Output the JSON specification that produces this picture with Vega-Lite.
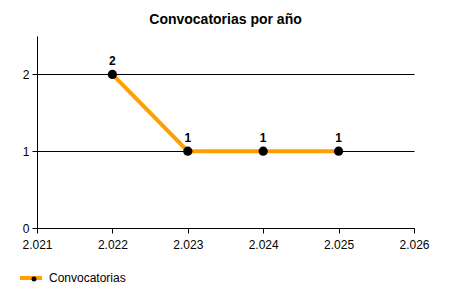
{
  "$schema": "https://vega.github.io/schema/vega-lite/v6.json",
  "width": 377,
  "height": 192,
  "autosize": "none",
  "padding": {"left": 37, "top": 36, "right": 36, "bottom": 72},
  "background": "white",
  "title": {
    "text": "Convocatorias por año",
    "font": "Liberation Sans",
    "fontSize": 14,
    "fontWeight": "bold",
    "color": "black",
    "anchor": "middle",
    "baseline": "alphabetic",
    "offset": -2
  },
  "config": {
    "view": {"stroke": null},
    "font": "Liberation Sans",
    "axis": {
      "labelFont": "Liberation Sans",
      "labelFontSize": 12,
      "labelColor": "black",
      "domainColor": "black",
      "tickColor": "black",
      "gridColor": "black",
      "gridOpacity": 1,
      "tickSize": 5,
      "title": null
    }
  },
  "data": {
    "values": [
      {"year": 2022, "count": 2, "series": "Convocatorias", "marker": "Convocatorias "},
      {"year": 2023, "count": 1, "series": "Convocatorias", "marker": "Convocatorias "},
      {"year": 2024, "count": 1, "series": "Convocatorias", "marker": "Convocatorias "},
      {"year": 2025, "count": 1, "series": "Convocatorias", "marker": "Convocatorias "}
    ]
  },
  "encoding": {
    "x": {
      "field": "year",
      "type": "quantitative",
      "scale": {"domain": [2021, 2026], "nice": false, "zero": false},
      "axis": {
        "values": [2021, 2022, 2023, 2024, 2025, 2026],
        "labelExpr": "replace(format(datum.value, ','), ',', '.')",
        "grid": false,
        "labelPadding": 6,
        "labelFlush": false
      }
    },
    "y": {
      "field": "count",
      "type": "quantitative",
      "scale": {"domain": [0, 2.5], "nice": false},
      "axis": {
        "values": [0, 1, 2],
        "grid": true,
        "labelPadding": 3
      }
    }
  },
  "layer": [
    {
      "mark": {"type": "line", "strokeWidth": 4},
      "encoding": {
        "stroke": {
          "field": "series",
          "type": "nominal",
          "scale": {"domain": ["Convocatorias"], "range": ["#FFA000"]},
          "legend": {
            "title": null,
            "orient": "none",
            "legendX": -19,
            "legendY": 229,
            "symbolType": "stroke",
            "symbolSize": 484,
            "symbolStrokeWidth": 4,
            "labelFont": "Liberation Sans",
            "labelFontSize": 12,
            "labelColor": "black",
            "labelOffset": 5,
            "padding": 0
          }
        }
      }
    },
    {
      "mark": {"type": "point", "filled": true, "size": 85, "opacity": 1},
      "encoding": {
        "fill": {
          "field": "marker",
          "type": "nominal",
          "scale": {"domain": ["Convocatorias "], "range": ["black"]},
          "legend": {
            "title": null,
            "orient": "none",
            "legendX": -8,
            "legendY": 238,
            "symbolType": "circle",
            "symbolSize": 25,
            "symbolStrokeWidth": 0,
            "labelExpr": "''",
            "padding": 0
          }
        }
      }
    },
    {
      "mark": {"type": "text", "dy": -13, "fontWeight": "bold", "fontSize": 12, "font": "Liberation Sans", "color": "black"},
      "encoding": {
        "text": {"field": "count", "type": "quantitative"}
      }
    }
  ]
}
